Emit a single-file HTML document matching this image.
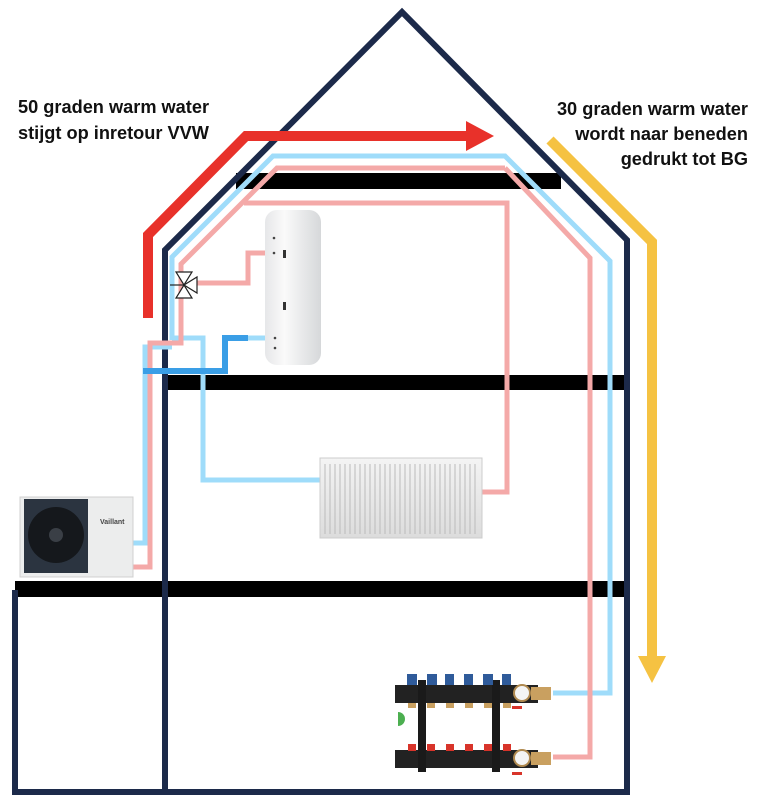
<!DOCTYPE html>
<html><head><meta charset="utf-8"><style>
html,body{margin:0;padding:0;background:#fff;}
svg{display:block;}
text{font-family:"Liberation Sans",sans-serif;font-weight:bold;font-size:18.2px;fill:#111;}
</style></head><body>
<svg width="760" height="800" viewBox="0 0 760 800" xmlns="http://www.w3.org/2000/svg">
<!-- floors -->
<rect x="236" y="173" width="325" height="16" fill="#000"/>
<rect x="162" y="375" width="466" height="15" fill="#000"/>
<rect x="15" y="581" width="613" height="16" fill="#000"/>
<!-- house outline -->
<g fill="none" stroke="#1c2a4a" stroke-width="6" stroke-linejoin="miter">
<polyline points="165,792 165,250 402,12 627,240 627,792 15,792 15,590"/>
</g>
<!-- light blue pipes -->
<g fill="none" stroke="#9fdcfa" stroke-width="5" stroke-linejoin="miter">
<polyline points="172,340 172,257 273,156 505,156 610,261 610,693 553,693"/>
<polyline points="130,543 145,543 145,347 172,347"/>
<polyline points="172,338 203,338 203,480 320,480"/>
<polyline points="248,338 266,338"/>
</g>
<!-- pink pipes -->
<g fill="none" stroke="#f4a9a8" stroke-width="5" stroke-linejoin="miter">
<polyline points="505,168 277,168 181,264 181,343 150,343 150,567 133,567"/>
<polyline points="505,168 590,258 590,757 553,757"/>
<polyline points="244,203 507,203 507,492 482,492"/>
<polyline points="195,283 248,283 248,253 268,253"/>
</g>
<!-- dark blue -->
<polyline points="143,371 225,371 225,338 248,338" fill="none" stroke="#3a9ee6" stroke-width="6"/>
<!-- valve -->
<g stroke="#222" stroke-width="1.2" fill="#fff">
<polygon points="176,272 192,272 184,285"/>
<polygon points="176,298 192,298 184,285"/>
<polygon points="197,277 197,293 184,285"/>
<line x1="170" y1="285" x2="184" y2="285"/>
</g>
<!-- red arrow -->
<polyline points="148,318 148,235 246,136 470,136" fill="none" stroke="#e8312a" stroke-width="10" stroke-linejoin="miter"/>
<polygon points="466,121 494,136 466,151" fill="#e8312a"/>
<!-- yellow arrow -->
<polyline points="550,140 652,242 652,660" fill="none" stroke="#f5c242" stroke-width="10" stroke-linejoin="miter"/>
<polygon points="638,656 666,656 652,683" fill="#f5c242"/>
<!-- boiler -->
<defs>
<linearGradient id="bg" x1="0" x2="1"><stop offset="0" stop-color="#e6e7e9"/><stop offset="0.35" stop-color="#fafafa"/><stop offset="1" stop-color="#d6d8da"/></linearGradient>
<linearGradient id="rg" x1="0" x2="0" y1="0" y2="1"><stop offset="0" stop-color="#f4f4f4"/><stop offset="1" stop-color="#dcdcdc"/></linearGradient>
</defs>
<rect x="265" y="210" width="56" height="155" rx="12" fill="url(#bg)"/>
<rect x="283" y="250" width="3" height="8" fill="#333"/>
<rect x="283" y="302" width="3" height="8" fill="#333"/>
<circle cx="274" cy="238" r="1.3" fill="#444"/><circle cx="274" cy="253" r="1.3" fill="#444"/>
<circle cx="275" cy="338" r="1.3" fill="#444"/><circle cx="275" cy="348" r="1.3" fill="#444"/>
<!-- radiator -->
<rect x="320" y="458" width="162" height="80" fill="url(#rg)" stroke="#ccc"/>
<g stroke="#bbb" stroke-width="1">
<path d="M325 464V534M330 464V534M335 464V534M340 464V534M345 464V534M350 464V534M355 464V534M360 464V534M365 464V534M370 464V534M375 464V534M380 464V534M385 464V534M390 464V534M395 464V534M400 464V534M405 464V534M410 464V534M415 464V534M420 464V534M425 464V534M430 464V534M435 464V534M440 464V534M445 464V534M450 464V534M455 464V534M460 464V534M465 464V534M470 464V534M475 464V534"/>
</g>
<!-- heat pump -->
<rect x="20" y="497" width="113" height="80" fill="#eceded" stroke="#d0d0d0"/>
<rect x="24" y="499" width="64" height="74" fill="#2b3440"/>
<circle cx="56" cy="535" r="28" fill="#15181c"/>
<circle cx="56" cy="535" r="7" fill="#3a3f46"/>
<text x="100" y="524" style="font-size:7px;fill:#444">Vaillant</text>
<!-- manifold -->
<g>
<rect x="395" y="685" width="143" height="18" fill="#222"/>
<rect x="395" y="750" width="143" height="18" fill="#222"/>
<rect x="418" y="680" width="8" height="92" fill="#1a1a1a"/>
<rect x="492" y="680" width="8" height="92" fill="#1a1a1a"/>
<g fill="#2f5b9a">
<rect x="407" y="674" width="10" height="11"/><rect x="427" y="674" width="10" height="11"/><rect x="445" y="674" width="9" height="11"/><rect x="464" y="674" width="9" height="11"/><rect x="483" y="674" width="10" height="11"/><rect x="502" y="674" width="9" height="11"/>
</g>
<g fill="#d8342a">
<rect x="408" y="744" width="8" height="7"/><rect x="427" y="744" width="8" height="7"/><rect x="446" y="744" width="8" height="7"/><rect x="465" y="744" width="8" height="7"/><rect x="484" y="744" width="8" height="7"/><rect x="503" y="744" width="8" height="7"/>
</g>
<g fill="#c9a060">
<rect x="408" y="703" width="8" height="5"/><rect x="427" y="703" width="8" height="5"/><rect x="446" y="703" width="8" height="5"/><rect x="465" y="703" width="8" height="5"/><rect x="484" y="703" width="8" height="5"/><rect x="503" y="703" width="8" height="5"/>
<rect x="531" y="687" width="20" height="13"/><rect x="531" y="752" width="20" height="13"/>
</g>
<circle cx="522" cy="693" r="8" fill="#f4f4f4" stroke="#b08a50" stroke-width="2"/>
<circle cx="522" cy="758" r="8" fill="#f4f4f4" stroke="#b08a50" stroke-width="2"/>
<rect x="512" y="706" width="10" height="3" fill="#d8342a"/>
<rect x="512" y="772" width="10" height="3" fill="#d8342a"/>
<path d="M398 712 a7 7 0 1 1 0 14" fill="#4caf50"/>
</g>
<!-- texts -->
<text x="18" y="113">50 graden warm water</text>
<text x="18" y="139">stijgt op inretour VVW</text>
<text x="748" y="115" text-anchor="end">30 graden warm water</text>
<text x="748" y="140" text-anchor="end">wordt naar beneden</text>
<text x="748" y="165" text-anchor="end">gedrukt tot BG</text>
</svg>
</body></html>
